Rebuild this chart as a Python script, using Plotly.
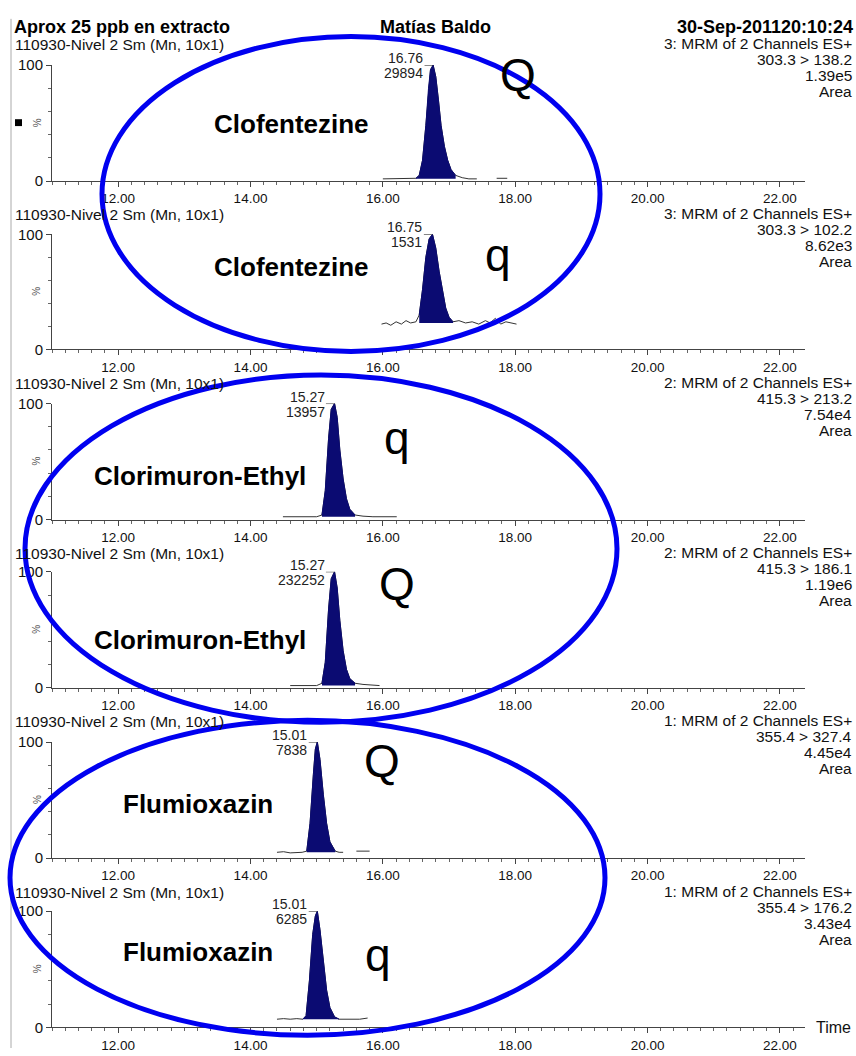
import plotly.graph_objects as go

# ---------------- data ----------------
compounds = ["Clofentezine", "Clofentezine", "Clorimuron-Ethyl", "Clorimuron-Ethyl", "Flumioxazin", "Flumioxazin"]
ion_kind = ["Q", "q", "q", "Q", "Q", "q"]
header_left = "110930-Nivel 2 Sm (Mn, 10x1)"
channel_txt = ["3: MRM of 2 Channels ES+", "3: MRM of 2 Channels ES+", "2: MRM of 2 Channels ES+",
               "2: MRM of 2 Channels ES+", "1: MRM of 2 Channels ES+", "1: MRM of 2 Channels ES+"]
transition = ["303.3 > 138.2", "303.3 > 102.2", "415.3 > 213.2", "415.3 > 186.1", "355.4 > 327.4", "355.4 > 176.2"]
tic_value = ["1.39e5", "8.62e3", "7.54e4", "1.19e6", "4.45e4", "3.43e4"]
peak_rt = [16.76, 16.75, 15.27, 15.27, 15.01, 15.01]
peak_area = ["29894", "1531", "13957", "232252", "7838", "6285"]
x_ticks = [12, 14, 16, 18, 20, 22]

# chromatogram traces (time in min, intensity in %)
t1 = [16.0, 16.2, 16.4, 16.5, 16.55, 16.6, 16.65, 16.69, 16.72, 16.76, 16.8, 16.84, 16.88, 16.93, 16.98, 17.03, 17.1, 17.2, 17.3, 17.42, None, 17.72, 17.8, 17.88]
i1 = [2, 2, 2, 2.5, 5, 18, 48, 80, 96, 100, 90, 70, 48, 30, 18, 10, 5, 3, 2, 2, None, 2.5, 2.5, 2.5]
t2 = [15.98, 16.05, 16.12, 16.2, 16.28, 16.35, 16.42, 16.5, 16.55, 16.6, 16.65, 16.7, 16.75, 16.8, 16.85, 16.9, 16.95, 17.0, 17.06, 17.15, 17.25, 17.35, 17.45, 17.55, 17.62, 17.7, 17.78, 17.86, 17.95, 18.02]
i2 = [22, 23, 21, 24, 22, 25, 23, 24, 30, 52, 80, 96, 100, 88, 68, 50, 36, 28, 24, 25, 23, 24, 22, 25, 23, 27, 22, 24, 23, 22]
t3 = [14.49, 14.7, 14.9, 15.0, 15.08, 15.13, 15.18, 15.22, 15.27, 15.31, 15.35, 15.4, 15.45, 15.5, 15.58, 15.7, 15.85, 16.0, 16.21]
i3 = [2.5, 2.5, 2.5, 2.5, 4, 25, 70, 95, 100, 88, 60, 35, 18, 9, 4, 3, 2.5, 2.5, 2.5]
t4 = [14.6, 14.8, 15.0, 15.08, 15.13, 15.18, 15.22, 15.27, 15.31, 15.35, 15.4, 15.45, 15.5, 15.58, 15.7, 15.95]
i4 = [2, 2, 2, 4, 22, 68, 94, 100, 86, 58, 32, 16, 8, 4, 3, 2]
t5 = [14.4, 14.5, 14.6, 14.7, 14.78, 14.85, 14.9, 14.95, 14.98, 15.01, 15.05, 15.1, 15.15, 15.2, 15.28, 15.34, 15.4, None, 15.6, 15.7, 15.8]
i5 = [5, 5.5, 4.5, 5, 5, 6, 30, 72, 94, 100, 85, 55, 30, 14, 6, 5, 5, None, 6, 6, 6]
t6 = [14.4, 14.5, 14.6, 14.7, 14.79, 14.84, 14.89, 14.94, 14.98, 15.01, 15.05, 15.1, 15.15, 15.2, 15.27, 15.34, 15.45, 15.55, 15.65, 15.77]
i6 = [7, 7.5, 7, 7.5, 7, 10, 40, 80, 96, 100, 84, 56, 32, 17, 9, 7, 7, 7.5, 7, 8]
times = [t1, t2, t3, t4, t5, t6]
intens = [i1, i2, i3, i4, i5, i6]
# integrated peak windows and their baseline level
peak_start = [16.5, 16.55, 15.08, 15.08, 14.85, 14.79]
peak_end = [17.1, 17.06, 15.58, 15.58, 15.28, 15.34]
peak_base = [2, 23, 2.5, 2, 5, 7]

# ---------------- geometry helpers (page pixels -> paper) ----------------
W, H = 856, 1056
def px(x):
    return x / W
def py(y):
    return 1 - y / H

NAVY = "#0b0b72"
BLUE = "#0000f0"
FONT = "Liberation Sans, Arial, sans-serif"

zero_px = [175, 346, 519, 690, 863, 1035]
full_px = [57, 229, 401, 572, 745, 917]
head_px = [36, 209, 381, 553, 724, 898]
label_px = [(291, 117), (291, 262), (200, 475), (200, 641), (198, 808), (198, 958)]
kind_px = [(518, 83), (498, 266), (397, 452), (397, 600), (382, 780), (378, 977)]   # x centre, baseline

fig = go.Figure()
annotations = []
shapes = []

for k in range(6):
    n = k + 1
    xa = "x" if n == 1 else f"x{n}"
    ya = "y" if n == 1 else f"y{n}"
    t = times[k]
    v = intens[k]
    fig.add_trace(go.Scatter(x=t, y=v, mode="lines", line=dict(color="#333333", width=1),
                             xaxis=xa, yaxis=ya, hoverinfo="skip", connectgaps=False))
    fig.add_trace(go.Scatter(x=[peak_start[k], peak_end[k]], y=[peak_base[k], peak_base[k]], mode="lines",
                             line=dict(width=0, color=NAVY), xaxis=xa, yaxis=ya, hoverinfo="skip"))
    pt = [tt for tt in t if tt is not None and peak_start[k] <= tt <= peak_end[k]]
    pv = [vv for tt, vv in zip(t, v) if tt is not None and peak_start[k] <= tt <= peak_end[k]]
    fig.add_trace(go.Scatter(x=pt, y=pv, mode="lines", fill="tonexty", fillcolor=NAVY,
                             line=dict(color=NAVY, width=1), xaxis=xa, yaxis=ya, hoverinfo="skip"))

    xkey = "xaxis" if n == 1 else f"xaxis{n}"
    ykey = "yaxis" if n == 1 else f"yaxis{n}"
    fig.layout[xkey] = dict(
        domain=[px(52), px(805)], anchor=ya, range=[11.0, 22.38],
        showline=True, linecolor="#444", linewidth=1, showgrid=False, zeroline=False,
        tickmode="array", tickvals=x_ticks, ticktext=[f"{v:.2f}" for v in x_ticks],
        ticks="outside", ticklen=5, tickcolor="#444",
        minor=dict(ticks="outside", ticklen=3, dtick=0.2, tick0=0, tickcolor="#666", showgrid=False),
        tickfont=dict(family=FONT, size=13.5, color="#111"),
    )
    fig.layout[ykey] = dict(
        domain=[py(zero_px[k]), py(full_px[k])], anchor=xa, range=[0, 100],
        showline=True, linecolor="#444", linewidth=1, showgrid=False, zeroline=False,
        tickmode="array", tickvals=[0, 100], ticktext=["0", "100"],
        ticks="outside", ticklen=5, tickcolor="#444",
        minor=dict(ticks="outside", ticklen=3, dtick=20, tick0=0, tickcolor="#666", showgrid=False),
        tickfont=dict(family=FONT, size=15, color="#111"),
    )

    annotations.append(dict(x=px(14), y=py(head_px[k]), xref="paper", yref="paper", text=header_left,
                            showarrow=False, xanchor="left", yanchor="middle", borderpad=0,
                            font=dict(family=FONT, size=15.5, color="#111")))
    right_lines = [channel_txt[k], transition[k], tic_value[k], "Area"]
    for j, s in enumerate(right_lines):
        annotations.append(dict(x=px(853), y=py(head_px[k] - 1 + 16.3 * j), xref="paper", yref="paper", text=s,
                                showarrow=False, xanchor="right", yanchor="middle", borderpad=0,
                                font=dict(family=FONT, size=15.5, color="#111")))
    annotations.append(dict(x=px(37), y=py((zero_px[k] + full_px[k]) / 2), xref="paper", yref="paper", text="%",
                            showarrow=False, textangle=-90, xanchor="center", yanchor="middle",
                            font=dict(family=FONT, size=10, color="#555")))
    annotations.append(dict(x=peak_rt[k], y=100, xref=xa, yref=ya, text=f"{peak_rt[k]:.2f}", showarrow=False,
                            xanchor="right", yanchor="middle", xshift=-9, yshift=7, borderpad=0,
                            font=dict(family=FONT, size=14, color="#222")))
    annotations.append(dict(x=peak_rt[k], y=100, xref=xa, yref=ya, text=peak_area[k], showarrow=False,
                            xanchor="right", yanchor="middle", xshift=-9, yshift=-8, borderpad=0,
                            font=dict(family=FONT, size=14, color="#222")))
    shapes.append(dict(type="line", xref=xa, yref=ya, x0=peak_rt[k] - 0.13, x1=peak_rt[k],
                       y0=100, y1=100, line=dict(color="#333", width=1)))
    lx, ly = label_px[k]
    annotations.append(dict(x=px(lx), y=py(ly), xref="paper", yref="paper", text=f"<b>{compounds[k]}</b>",
                            showarrow=False, xanchor="center", yanchor="middle",
                            font=dict(family=FONT, size=26, color="#000")))
    qx, qb = kind_px[k]
    annotations.append(dict(x=px(qx), y=py(qb - 16), xref="paper", yref="paper", text=ion_kind[k],
                            showarrow=False, xanchor="center", yanchor="middle",
                            font=dict(family=FONT, size=46, color="#000")))

annotations.append(dict(x=px(12), y=py(18), xref="paper", yref="paper", text="<b>Aprox 25 ppb en extracto</b>",
                        showarrow=False, xanchor="left", yanchor="middle", font=dict(family=FONT, size=18, color="#000")))
annotations.append(dict(x=px(435), y=py(18), xref="paper", yref="paper", text="<b>Matías Baldo</b>",
                        showarrow=False, xanchor="center", yanchor="middle", font=dict(family=FONT, size=18, color="#000")))
annotations.append(dict(x=px(855), y=py(18), xref="paper", yref="paper", text="<b>30-Sep-201120:10:24</b>",
                        showarrow=False, xanchor="right", yanchor="middle", font=dict(family=FONT, size=18, color="#000")))
annotations.append(dict(x=px(814), y=py(1035), xref="paper", yref="paper", text="Time",
                        showarrow=False, xanchor="left", yanchor="middle", font=dict(family=FONT, size=16, color="#111")))
shapes.append(dict(type="rect", xref="paper", yref="paper", x0=px(15), x1=px(22), y0=py(119), y1=py(112),
                   fillcolor="#000", line=dict(width=0)))
shapes.append(dict(type="line", xref="paper", yref="paper", x0=px(11), x1=px(11), y0=py(10), y1=py(1056),
                   line=dict(color="#aaa", width=1)))

ellipses = [(102, 28, 600, 348), (25, 372, 617, 725), (10, 723, 605, 1043)]
for (x0, y0, x1, y1) in ellipses:
    shapes.append(dict(type="circle", xref="paper", yref="paper", x0=px(x0), x1=px(x1), y0=py(y1), y1=py(y0),
                       line=dict(color=BLUE, width=5), layer="above"))

fig.update_layout(width=W, height=H, margin=dict(l=0, r=0, t=0, b=0),
                  paper_bgcolor="white", plot_bgcolor="white", showlegend=False,
                  annotations=annotations, shapes=shapes)

# place the figure at the page's top-left corner (no default body margin), no mode bar
fig.write_html("out.html", config={"displayModeBar": False, "staticPlot": True},
               post_script="document.body.style.margin='0';document.body.style.overflow='hidden';")
